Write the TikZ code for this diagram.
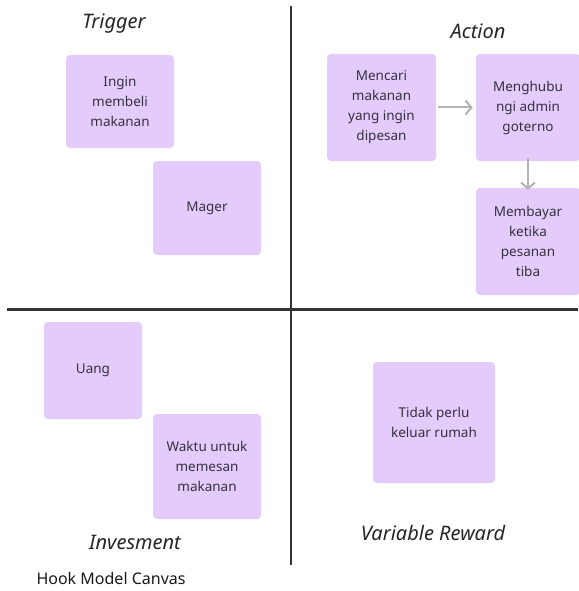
\documentclass[tikz,border=0pt]{standalone}
\usepackage{fontspec}
\setmainfont{Noto Sans}
\usetikzlibrary{arrows.meta}
\definecolor{stickyfill}{HTML}{E3CCFB}
\definecolor{stickytext}{HTML}{363040}
\definecolor{axis}{HTML}{333333}
\definecolor{arrowgray}{HTML}{B4B4B4}
\tikzset{
  sticky/.style={draw=none, fill=stickyfill, rounded corners=4pt, text=stickytext,
    font=\fontsize{13.5}{20}\selectfont, align=center, inner sep=0pt},
  quadtitle/.style={font=\fontsize{20}{23}\selectfont\itshape, text=black!85},
  axisline/.style={draw=axis, line width=2.6pt},
  flowarrow/.style={draw=arrowgray, line width=2pt, -{Straight Barb[length=6pt,width=14pt]}}
}
\begin{document}
\begin{tikzpicture}[x=1pt,y=-1pt]
\useasboundingbox (0,0) rectangle (578,591);
% axes
\coordinate (vtop) at (291,6);
\coordinate (vbot) at (291,565);
\coordinate (hleft) at (7,309.5);
\coordinate (hright) at (578,309.5);
\draw[axisline] (vtop) -- (vbot);
\draw[axisline] (hleft) -- (hright);
% titles
\node[quadtitle] (trigger) at (114,24) {Trigger};
\node[quadtitle] (action) at (478,31) {Action};
\node[quadtitle] (invesment) at (135,542) {Invesment};
\node[quadtitle] (reward) at (433,533) {Variable Reward};
\node[anchor=west, font=\fontsize{16}{19}\selectfont, text=black!90] (caption) at (33,578) {Hook Model Canvas};
% trigger
\node[sticky, minimum width=108pt, minimum height=93pt] (ingin) at (120,101.5) {Ingin\\membeli\\makanan};
\node[sticky, minimum width=108pt, minimum height=94pt] (mager) at (207,208) {Mager};
% action
\node[sticky, minimum width=109pt, minimum height=107pt] (mencari) at (381.5,107.5) {Mencari\\makanan\\yang ingin\\dipesan};
\node[sticky, minimum width=104pt, minimum height=107pt] (menghub) at (528,107.5) {Menghubu\\ngi admin\\goterno};
\node[sticky, minimum width=104pt, minimum height=107pt] (membayar) at (528,241.5) {Membayar\\ketika\\pesanan\\tiba};
\draw[flowarrow] ([xshift=2pt]mencari.east) -- ([xshift=-3pt]menghub.west);
\draw[flowarrow] ([yshift=3pt]menghub.south) -- ([yshift=-2pt]membayar.north);
% investment
\node[sticky, minimum width=98pt, minimum height=97pt] (uang) at (93,370.5) {Uang};
\node[sticky, minimum width=108pt, minimum height=105pt] (waktu) at (207,466.5) {Waktu untuk\\memesan\\makanan};
% reward
\node[sticky, minimum width=122pt, minimum height=121pt] (tidak) at (434,422.5) {Tidak perlu\\keluar rumah};
\end{tikzpicture}
\end{document}
